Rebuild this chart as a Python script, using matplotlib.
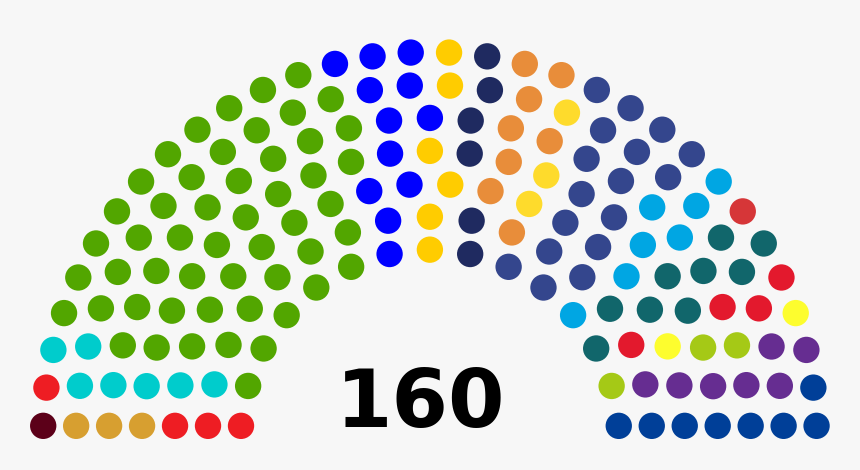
import math
import matplotlib
matplotlib.use("Agg")
import matplotlib.pyplot as plt
from matplotlib.patches import Circle

# Escaños por partido, en el orden en que se reparten (de izquierda a derecha)
escanos = [1, 3, 4, 7, 52, 12, 6, 6, 8, 3, 17, 7, 1, 9, 4, 2, 3, 7, 8]
colores = ["#5c0019", "#d79f30", "#ee1d23", "#00cccc", "#52a600",
           "#0000ff", "#ffcc00", "#1f2a60", "#e88d3a", "#fedb2c",
           "#34468d", "#00a6e3", "#d63638", "#11666b", "#e3192d",
           "#fdfd2e", "#a5c916", "#662d91", "#003f98"]
total = sum(escanos)

# Capacidad acumulada por número de filas del hemiciclo
totales_filas = [3, 15, 33, 61, 95, 138, 189, 247, 313, 388]

# =============================================================
# Posiciones de los escaños (filas semicirculares)
# =============================================================
filas = next(i + 1 for i, t in enumerate(totales_filas) if t >= total)
radio = 0.4 / filas

pos = []
for i in range(1, filas):
    J = int(float(total) / totales_filas[filas - 1] * math.pi /
            (2 * math.asin(2.0 / (3.0 * filas + 4.0 * i - 2.0))))
    R = (3.0 * filas + 4.0 * i - 2.0) / (4.0 * filas)
    for j in range(J):
        ang = float(j) * (math.pi - 2.0 * math.sin(radio / R)) / (float(J) - 1.0) + math.sin(radio / R)
        pos.append([ang, R * math.cos(ang) + 1.75, R * math.sin(ang)])

# fila exterior con el resto
J = total - len(pos)
R = (7.0 * filas - 2.0) / (4.0 * filas)
for j in range(J):
    ang = float(j) * (math.pi - 2.0 * math.sin(radio / R)) / (float(J) - 1.0) + math.sin(radio / R)
    pos.append([ang, R * math.cos(ang) + 1.75, R * math.sin(ang)])

pos.sort(reverse=True)

# =============================================================
# Dibujo
# =============================================================
fig = plt.figure(figsize=(8.6, 4.7), dpi=100)
fig.patch.set_facecolor("#f7f7f7")
ax = fig.add_axes([0, 0, 1, 1])
ax.set_facecolor("#f7f7f7")

k = 0
for n, c in zip(escanos, colores):
    for _ in range(n):
        ang, x, y = pos[k]
        ax.add_patch(Circle((x - 1.75, y), radio, color=c, lw=0))
        k += 1

ax.text(-0.04, 0.05, str(total), ha="center", va="baseline",
        fontsize=58.5, fontweight="bold", family="DejaVu Sans", color="black")

ax.set_xlim(-1.865, 1.866)
ax.set_ylim(-0.1345, 1.9046)
ax.set_aspect("equal")
ax.axis("off")

plt.savefig("out.png", dpi=100, facecolor=fig.get_facecolor())
